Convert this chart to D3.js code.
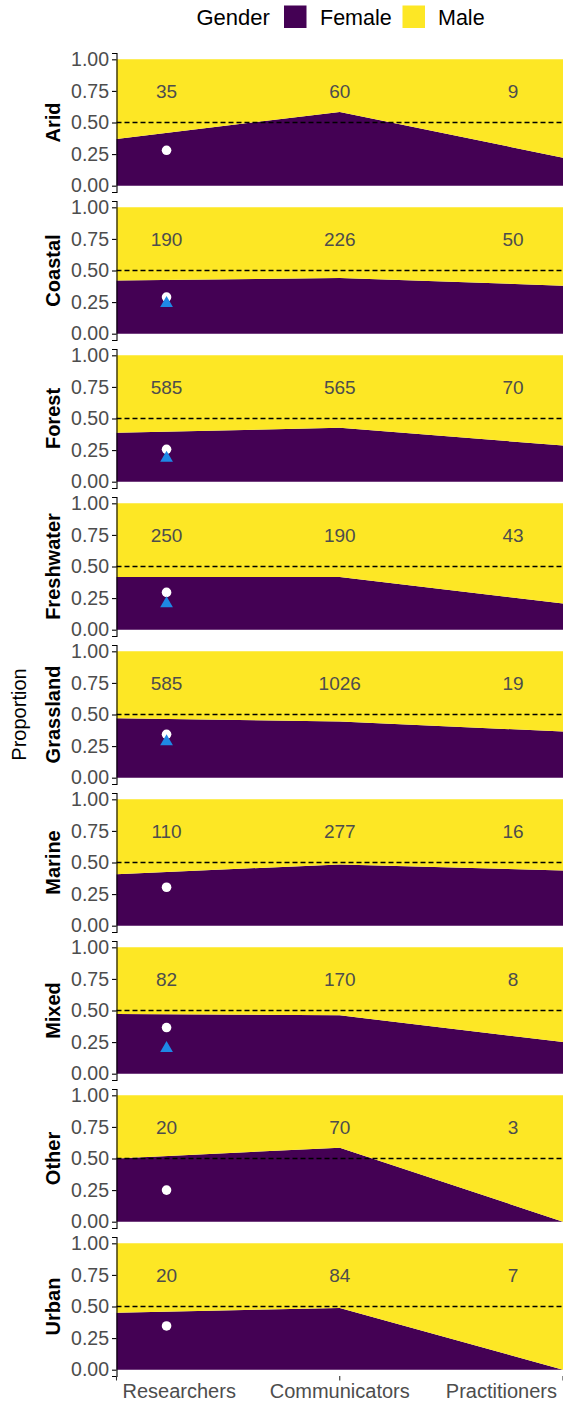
<!DOCTYPE html>
<html><head><meta charset="utf-8">
<script src="https://cdn.jsdelivr.net/npm/d3@7"></script>
<style>
html,body{margin:0;padding:0;background:#fff;}
svg{display:block;font-family:"Liberation Sans",Arial,sans-serif;}
</style></head>
<body><svg id="chart" width="563" height="1407"></svg>
<script>
// ---- data ----
const roles = ["Researchers", "Communicators", "Practitioners"];
const habitats = ["Arid","Coastal","Forest","Freshwater","Grassland","Marine","Mixed","Other","Urban"];
// proportion of female per habitat, per role
const femaleProp = [
  [0.37, 0.583, 0.222],
  [0.42, 0.44, 0.38],
  [0.387, 0.426, 0.286],
  [0.416, 0.416, 0.207],
  [0.47, 0.445, 0.365],
  [0.408, 0.484, 0.4375],
  [0.472, 0.462, 0.25],
  [0.50, 0.586, 0.0],
  [0.45, 0.488, 0.0]
];
// sample sizes per habitat, per role
const counts = [
  [35, 60, 9],
  [190, 226, 50],
  [585, 565, 70],
  [250, 190, 43],
  [585, 1026, 19],
  [110, 277, 16],
  [82, 170, 8],
  [20, 70, 3],
  [20, 84, 7]
];
// reference points for researchers (circle) and second reference (triangle)
const circleRef = [0.28, 0.29, 0.256, 0.295, 0.343, 0.304, 0.365, 0.25, 0.346];
const triangleRef = [null, 0.245, 0.19, 0.21, 0.29, null, 0.205, null, null];
const yTicks = [0, 0.25, 0.5, 0.75, 1];
const genders = ["Female", "Male"];
const genderColors = ["#440154", "#FDE725"];

// ---- layout ----
const svg = d3.select("#chart");
const left = 116.5, right = 563;
const panelTop0 = 53, panelH = 139, pitch = 148;
const xArea = d3.scalePoint().domain(roles).range([left, right]);
const xText = d3.scalePoint().domain(roles).range([left, right]).padding(0.289);
const color = d3.scaleOrdinal().domain(genders).range(genderColors);

habitats.forEach((hab, i) => {
  const top = panelTop0 + i * pitch;
  const y = d3.scaleLinear().domain([-0.05, 1.05]).range([top + panelH, top]);
  const g = svg.append("g");
  const rows = roles.map((r, j) => ({role: r, Female: femaleProp[i][j], Male: 1 - femaleProp[i][j]}));
  const stacked = d3.stack().keys(genders)(rows);
  const area = d3.area()
    .x(d => xArea(d.data.role))
    .y0(d => y(d[0]))
    .y1(d => y(d[1]));
  g.selectAll("path.area").data(stacked).join("path")
    .attr("class", "area")
    .attr("fill", d => color(d.key))
    .attr("d", area);
  // dashed 0.5 line
  g.append("line")
    .attr("x1", left).attr("x2", right)
    .attr("y1", y(0.5)).attr("y2", y(0.5))
    .attr("stroke", "#000").attr("stroke-width", 1.3)
    .attr("stroke-dasharray", "5,3");
  // counts
  g.selectAll("text.n").data(roles).join("text")
    .attr("class", "n")
    .attr("x", r => xText(r))
    .attr("y", y(0.75))
    .attr("dy", "0.36em")
    .attr("text-anchor", "middle")
    .attr("font-size", "19px")
    .attr("fill", "#4D4D4D")
    .text((r, j) => counts[i][j]);
  // circle reference
  g.append("circle")
    .attr("cx", xText(roles[0]))
    .attr("cy", y(circleRef[i]))
    .attr("r", 4.8)
    .attr("fill", "#fff");
  if (triangleRef[i] !== null) {
    g.append("path")
      .attr("d", d3.symbol().type(d3.symbolTriangle).size(70)())
      .attr("transform", `translate(${xText(roles[0])},${y(triangleRef[i]) + 0.5})`)
      .attr("fill", "#1E88E5");
  }
  // y axis
  const ax = g.append("g").attr("transform", `translate(${left},0)`)
    .call(d3.axisLeft(y).tickValues(yTicks).tickFormat(d3.format(".2f")).tickSizeOuter(0).tickSize(4.5).tickPadding(3));
  ax.select(".domain").attr("stroke", "#000").attr("stroke-width", 1.1);
  ax.selectAll(".tick line").attr("stroke", "#000").attr("stroke-width", 1.1);
  ax.selectAll(".tick text").attr("fill", "#4D4D4D").attr("font-size", "19.5px")
    .attr("font-family", "Liberation Sans, Arial, sans-serif");
  // strip label
  g.append("text")
    .attr("transform", `translate(60,${top + panelH / 2}) rotate(-90)`)
    .attr("text-anchor", "middle")
    .attr("font-weight", "bold")
    .attr("font-size", "20px")
    .attr("fill", "#000")
    .text(hab);
});

// x axis (bottom)
const lastTop = panelTop0 + (habitats.length - 1) * pitch;
const xBase = lastTop + panelH;
const xg = svg.append("g");
xg.selectAll("line").data(roles).join("line")
  .attr("x1", r => xArea(r)).attr("x2", r => xArea(r))
  .attr("y1", xBase).attr("y2", xBase + 4.5)
  .attr("stroke", "#333").attr("stroke-width", 1.1);
const anchors = ["start", "middle", "end"];
const offs = [6, 0, -6];
xg.selectAll("text").data(roles).join("text")
  .attr("x", (r, j) => xArea(r) + offs[j])
  .attr("y", xBase + 21.5)
  .attr("text-anchor", (r, j) => anchors[j])
  .attr("font-size", "20px")
  .attr("fill", "#4D4D4D")
  .text(r => r);

// y title
svg.append("text")
  .attr("transform", `translate(26,${(panelTop0 + xBase) / 2}) rotate(-90)`)
  .attr("text-anchor", "middle")
  .attr("font-size", "20px")
  .attr("fill", "#000")
  .text("Proportion");

// legend
const lg = svg.append("g");
lg.append("text").attr("x", 196.5).attr("y", 25).attr("font-size", "22px").attr("fill", "#000").text("Gender");
const keyX = [284, 402.5], labX = [320, 438];
genders.forEach((gname, k) => {
  lg.append("rect").attr("x", keyX[k]).attr("y", 5.5).attr("width", 22.5).attr("height", 22.5)
    .attr("fill", color(gname));
  lg.append("text").attr("x", labX[k]).attr("y", 25).attr("font-size", "21.5px").attr("fill", "#000").text(gname);
});
</script>
</body></html>
